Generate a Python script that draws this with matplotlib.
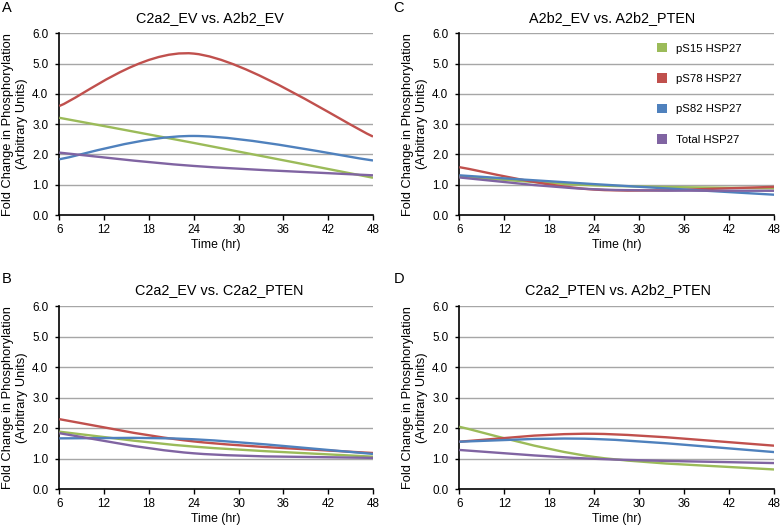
import matplotlib
matplotlib.use("Agg")
import matplotlib.pyplot as plt
from matplotlib.path import Path
from matplotlib.patches import PathPatch, Patch

plt.rcParams['font.family'] = ['Liberation Sans', 'DejaVu Sans']

times = [6, 24, 48]
series_names = ['pS15 HSP27', 'pS78 HSP27', 'pS82 HSP27', 'Total HSP27']
colors = ['#9BBB59', '#C0504D', '#4F81BD', '#8064A2']
x_ticks = [6, 12, 18, 24, 30, 36, 42, 48]
y_ticks = [0, 1, 2, 3, 4, 5, 6]

titles = ['C2a2_EV vs. A2b2_EV', 'C2a2_EV vs. C2a2_PTEN',
          'A2b2_EV vs. A2b2_PTEN', 'C2a2_PTEN vs. A2b2_PTEN']
letters = ['A', 'B', 'C', 'D']

panel_A_pS15 = [3.21, 2.38, 1.23]
panel_A_pS78 = [3.60, 5.33, 2.59]
panel_A_pS82 = [1.84, 2.61, 1.80]
panel_A_total = [2.06, 1.62, 1.31]

panel_B_pS15 = [1.89, 1.40, 1.07]
panel_B_pS78 = [2.30, 1.57, 1.19]
panel_B_pS82 = [1.67, 1.64, 1.16]
panel_B_total = [1.84, 1.18, 1.03]

panel_C_pS15 = [1.27, 0.98, 0.88]
panel_C_pS78 = [1.58, 0.84, 0.93]
panel_C_pS82 = [1.31, 1.02, 0.67]
panel_C_total = [1.24, 0.85, 0.80]

panel_D_pS15 = [2.05, 1.06, 0.65]
panel_D_pS78 = [1.56, 1.82, 1.43]
panel_D_pS82 = [1.56, 1.65, 1.22]
panel_D_total = [1.29, 1.00, 0.86]

panels = [
    [panel_A_pS15, panel_A_pS78, panel_A_pS82, panel_A_total],
    [panel_B_pS15, panel_B_pS78, panel_B_pS82, panel_B_total],
    [panel_C_pS15, panel_C_pS78, panel_C_pS82, panel_C_total],
    [panel_D_pS15, panel_D_pS78, panel_D_pS82, panel_D_total],
]

W, H = 782, 526
fig = plt.figure(figsize=(W / 100, H / 100), dpi=100)

# axes boxes in pixels: left, top, right, bottom
boxes = [(59.3, 33.3, 373, 215), (59.3, 306.3, 373, 489.3),
         (459.3, 33.3, 774.3, 215), (459.3, 306.3, 774.3, 489.3)]
title_pos = [(210, 18.5), (219, 290.5), (612.5, 18.5), (618, 290.5)]
letter_pos = [(2, 8), (2, 279), (393, 8), (394, 279)]


def smooth_path(xs, ys):
    pts = list(zip(xs, ys))
    n = len(pts)
    verts = [pts[0]]
    codes = [Path.MOVETO]
    for i in range(n - 1):
        p0 = pts[i - 1] if i > 0 else pts[i]
        p1 = pts[i]
        p2 = pts[i + 1]
        p3 = pts[i + 2] if i + 2 < n else pts[i + 1]
        c1 = (p1[0] + (p2[0] - p0[0]) / 6, p1[1] + (p2[1] - p0[1]) / 6)
        c2 = (p2[0] - (p3[0] - p1[0]) / 6, p2[1] - (p3[1] - p1[1]) / 6)
        verts += [c1, c2, p2]
        codes += [Path.CURVE4] * 3
    return Path(verts, codes)


for k in range(4):
    l, t, r, b = boxes[k]
    ax = fig.add_axes([l / W, 1 - b / H, (r - l) / W, (b - t) / H])
    ax.set_xlim(6, 48)
    ax.set_ylim(0, 6)
    ax.set_xticks(x_ticks)
    ax.set_yticks(y_ticks)
    ax.set_yticklabels([f'{v:.1f}' for v in y_ticks])
    for v in y_ticks[1:]:
        ax.axhline(v, color='#A6A6A6', lw=1.0, zorder=1)
    for s in ['top', 'right']:
        ax.spines[s].set_visible(False)
    for s in ['left', 'bottom']:
        ax.spines[s].set_color('black')
        ax.spines[s].set_linewidth(1.2)
    ax.tick_params(axis='x', direction='out', length=3.5, width=1,
                   colors='black', labelsize=8.4, pad=3)
    ax.tick_params(axis='y', direction='out', length=3, width=1,
                   colors='black', labelsize=8.4, pad=5)
    for j, vals in enumerate(panels[k]):
        patch = PathPatch(smooth_path(times, vals), facecolor='none',
                          edgecolor=colors[j], lw=1.7, zorder=3 + j,
                          capstyle='butt')
        ax.add_patch(patch)
    ax.set_xlabel('Time (hr)', fontsize=8.8, labelpad=2)
    fig.text(title_pos[k][0] / W, 1 - title_pos[k][1] / H, titles[k],
             fontsize=10.4, ha='center', va='center')
    fig.text(letter_pos[k][0] / W, 1 - letter_pos[k][1] / H, letters[k],
             fontsize=10.5, ha='left', va='center')
    fig.text((l - 44.5) / W, 1 - ((t + b) / 2) / H,
             'Fold Change in Phosphorylation\n(Arbitrary Units)',
             rotation=90, ha='center', va='center', fontsize=9.3,
             multialignment='center', linespacing=1.2)
    if k == 2:
        handles = [Patch(facecolor=c, edgecolor='none') for c in colors]
        ax.legend(handles, series_names, loc='upper left',
                  bbox_to_anchor=((657 - l) / (r - l), (b - 43) / (b - t)),
                  frameon=False, fontsize=8.2, borderaxespad=0, borderpad=0,
                  handlelength=0.88, handleheight=0.88, handletextpad=0.8,
                  labelspacing=1.74)

fig.savefig('out.png', dpi=100)
